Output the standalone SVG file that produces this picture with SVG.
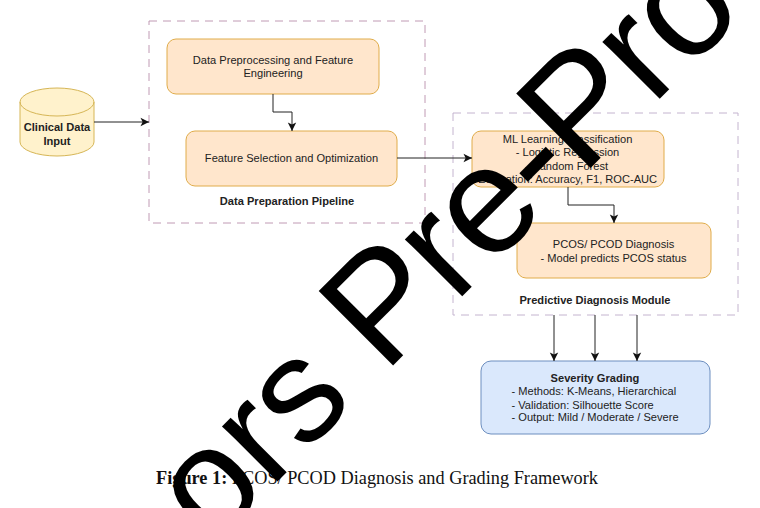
<svg xmlns="http://www.w3.org/2000/svg" width="760" height="508" viewBox="0 0 760 508">
<defs>
<marker id="arr" markerUnits="userSpaceOnUse" markerWidth="10" markerHeight="10" refX="9" refY="5" orient="auto"><path d="M0.5,0.8 L9,5 L0.5,9.2 L2.6,5 Z" fill="#111"/></marker>
</defs>
<style>
text{font-family:"Liberation Sans",Arial,sans-serif;font-size:11.1px;fill:#222;text-anchor:middle}
.b{font-weight:bold}
.l{text-anchor:start}
.or{fill:#ffe6cc;stroke:#e0ac4a;stroke-width:1}
.frame{fill:none;stroke-width:1;stroke-dasharray:8 6}
.c{fill:none;stroke:#222;stroke-width:1;marker-end:url(#arr)}
.cap{font-family:"Liberation Serif","Times New Roman",serif;font-size:18.3px;fill:#111;text-anchor:start}
.wm{font-family:"Liberation Sans",Arial,sans-serif;font-size:148px;fill:#000;text-anchor:start}
.wm2{font-size:153px;letter-spacing:-2.4px}
</style>
<rect width="760" height="508" fill="#fff"/>
<g id="pipeline-frame"><rect class="frame" x="149" y="21" width="276" height="202" stroke="#c09ab4"/><text class="b" x="287" y="205">Data Preparation Pipeline</text></g>
<g id="module-frame"><rect class="frame" x="453" y="113" width="285" height="202" stroke="#c4b4cf"/><text class="b" x="595" y="304">Predictive Diagnosis Module</text></g>
<g id="clinical"><path d="M20,102 A37,14 0 0 1 94,102 V142 A37,14 0 0 1 20,142 Z" fill="#fff2cc" stroke="#d6b656"/><path d="M20,102 A37,14 0 0 0 94,102" fill="none" stroke="#d6b656"/><text class="b" x="57" y="131">Clinical Data</text><text class="b" x="57" y="145">Input</text></g>
<g id="preprocess"><rect class="or" x="167" y="39" width="212" height="55" rx="9"/><text x="273" y="64">Data Preprocessing and Feature</text><text x="273" y="77">Engineering</text></g>
<g id="selection"><rect class="or" x="186" y="131" width="211" height="55" rx="9"/><text x="291.500" y="162">Feature Selection and Optimization</text></g>
<g id="ml"><rect class="or" x="472" y="131" width="192" height="56" rx="9"/><text x="567.500" y="143">ML Learning Classification</text><text x="567.500" y="156">- Logistic Regression</text><text x="566.500" y="169.500">- Random Forest</text><text x="567.500" y="182.500">Evaluation: Accuracy, F1, ROC-AUC</text></g>
<g id="diagnosis"><rect class="or" x="517" y="223" width="194" height="55" rx="9"/><text x="613.500" y="248">PCOS/ PCOD Diagnosis</text><text x="613.500" y="261.500">- Model predicts PCOS status</text></g>
<g id="severity"><rect x="481" y="361" width="229" height="73" rx="10" fill="#dae8fc" stroke="#6c8ebf"/><text class="b" x="595" y="382">Severity Grading</text><text class="l" x="511.500" y="395">- Methods: K-Means, Hierarchical</text><text class="l" x="511.500" y="409">- Validation: Silhouette Score</text><text class="l" x="511.500" y="421">- Output: Mild / Moderate / Severe</text></g>
<g id="connectors">
<path class="c" d="M94,122 H149"/>
<path class="c" d="M273,94 V112 H292 V131"/>
<path class="c" d="M397,158 H472"/>
<path class="c" d="M568,187 V205 H614 V223"/>
<path class="c" d="M554,315 V361"/>
<path class="c" d="M595,315 V361"/>
<path class="c" d="M637,315 V361"/>
</g>
<text class="cap" x="156" y="484"><tspan font-weight="bold">Figure 1: </tspan>PCOS/ PCOD Diagnosis and Grading Framework</text>
<text class="wm" transform="translate(212,547) rotate(-45)">or<tspan dx="-0.7" dy="-0.7">s </tspan><tspan class="wm2" dx="-2.1" dy="0.4">Pre-Proo</tspan></text>
</svg>
